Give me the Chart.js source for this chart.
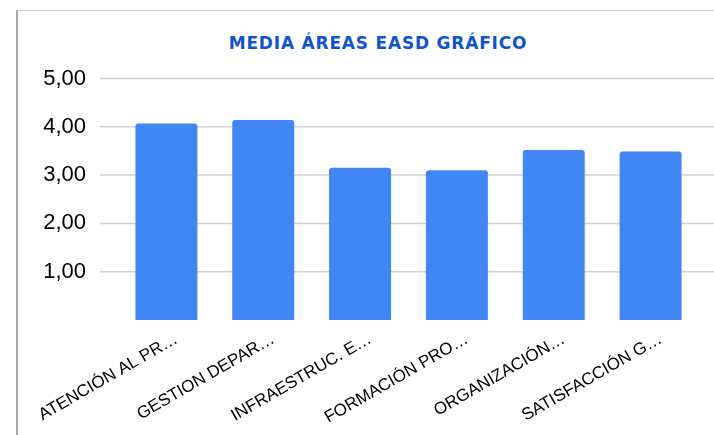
<!DOCTYPE html>
<html>
<head>
<meta charset="utf-8">
<script src="https://cdn.jsdelivr.net/npm/chart.js@4"></script>
<style>
    body { margin: 0; background: #ffffff; overflow: hidden; }
    #frame {
        position: absolute; left: 16px; top: 10px; width: 800px; height: 500px;
        border-left: 2px solid #a8a8a8; border-top: 1px solid #d4d4d4;
    }
    #mediaTitle {
        position: absolute; left: 178px; top: 32px; width: 400px; text-align: center;
        font-family: 'DejaVu Sans'; font-weight: bold; font-size: 17px; line-height: 22px;
        letter-spacing: 0.8px; color: #1155cc;
    }
    #mediaChart { position: absolute; left: 0; top: 0; }
</style>
</head>
<body>
<div id="frame"></div>
<div id="mediaTitle">MEDIA ÁREAS EASD GRÁFICO</div>
<canvas id="mediaChart" width="714" height="435"></canvas>
<script>
//------------* Data *------------//
var areaLabels = ['ATENCIÓN AL PR…', 'GESTION DEPAR…', 'INFRAESTRUC. E…', 'FORMACIÓN PRO…', 'ORGANIZACIÓN…', 'SATISFACCIÓN G…'];
var areaValues = [4.07, 4.14, 3.15, 3.10, 3.52, 3.49];
var yTickValues = [1, 2, 3, 4, 5];

// number format used by the sheet: 4,00
function commaLabel(v) {
    return v.toFixed(2).replace('.', ',');
}

// horizontal grid lines run from the labels to the right edge of the picture
var wideGrid = {
    id: 'wideGrid',
    beforeDatasetsDraw: function (chart) {
        var y = chart.scales.y;
        var ctx = chart.ctx;
        ctx.save();
        ctx.strokeStyle = '#d0d0d0';
        ctx.lineWidth = 1.5;
        yTickValues.forEach(function (v) {
            var py = y.getPixelForValue(v);
            ctx.beginPath();
            ctx.moveTo(100, py);
            ctx.lineTo(chart.width, py);
            ctx.stroke();
        });
        ctx.restore();
    }
};

var mediaChart = new Chart(document.getElementById('mediaChart'), {
    type: 'bar',
    data: {
        labels: areaLabels,
        datasets: [{
            data: areaValues,
            backgroundColor: '#4285f4',
            borderRadius: { topLeft: 3, topRight: 3 },
            borderSkipped: 'bottom',
            categoryPercentage: 1,
            barPercentage: 0.64
        }]
    },
    options: {
        responsive: false,
        animation: false,
        devicePixelRatio: 1,
        layout: { padding: { left: 0, right: 15, top: 78.5, bottom: 0 } },
        plugins: {
            legend: { display: false },
            tooltip: { enabled: false },
            title: { display: false }
        },
        scales: {
            y: {
                min: 0,
                max: 5,
                ticks: {
                    stepSize: 1,
                    padding: 32,
                    color: '#000000',
                    font: { family: 'Liberation Sans', size: 22 },
                    callback: function (v) { return v === 0 ? '' : commaLabel(v); }
                },
                grid: { display: false, drawTicks: false },
                border: { display: false },
                afterFit: function (scale) { scale.width = 118; }
            },
            x: {
                ticks: {
                    minRotation: 30,
                    maxRotation: 30,
                    autoSkip: false,
                    padding: 9,
                    labelOffset: 10,
                    color: '#000000',
                    font: { family: 'Liberation Sans', size: 17 }
                },
                grid: { display: false, drawTicks: false },
                border: { display: false },
                afterFit: function (scale) { scale.height = 115; }
            }
        }
    },
    plugins: [wideGrid]
});
</script>
</body>
</html>
